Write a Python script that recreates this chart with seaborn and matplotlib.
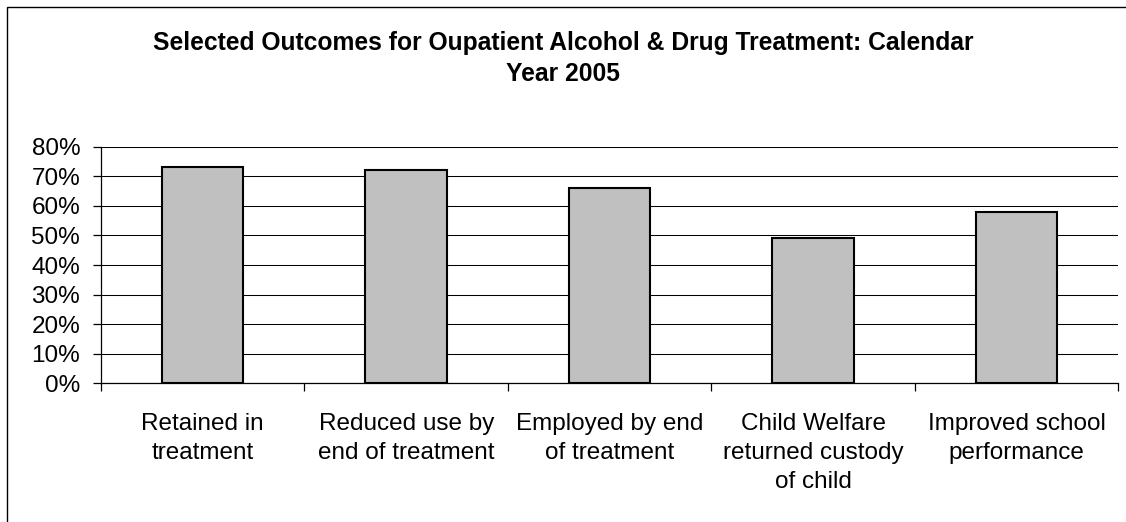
import matplotlib
matplotlib.use("Agg")
import matplotlib.pyplot as plt
import seaborn as sns
import pandas as pd
from matplotlib.patches import Rectangle
from matplotlib.ticker import FixedLocator, PercentFormatter

categories = [
    "Retained in\ntreatment",
    "Reduced use by\nend of treatment",
    "Employed by end\nof treatment",
    "Child Welfare\nreturned custody\nof child",
    "Improved school\nperformance",
]
values = [0.73, 0.72, 0.66, 0.49, 0.58]
y_ticks = [0.0, 0.1, 0.2, 0.3, 0.4, 0.5, 0.6, 0.7, 0.8]
title = "Selected Outcomes for Oupatient Alcohol & Drug Treatment: Calendar\nYear 2005"

df = pd.DataFrame({"category": categories, "value": values})

sns.set_theme(style="white")
plt.rcParams["font.family"] = ["Liberation Sans", "DejaVu Sans"]

W, H = 1126, 522
fig = plt.figure(figsize=(W / 100, H / 100), dpi=100)
ax = fig.add_axes([101 / W, 1 - 383.3 / H, (1118.3 - 101) / W, (383.3 - 146.7) / H])

sns.barplot(data=df, x="category", y="value", order=categories, ax=ax,
            color="#C0C0C0", width=0.4, edgecolor="black", linewidth=1.5,
            saturation=1, zorder=3)

ax.set_xlim(-0.5, len(categories) - 0.5)
ax.set_ylim(0, 0.8)
ax.set_yticks(y_ticks)
ax.yaxis.set_major_formatter(PercentFormatter(1.0, decimals=0))
ax.grid(axis="y", color="black", linewidth=0.75, zorder=0)
ax.set_axisbelow(True)
ax.set_xlabel("")
ax.set_ylabel("")

for s in ["top", "right"]:
    ax.spines[s].set_visible(False)
for s in ["left", "bottom"]:
    ax.spines[s].set_color("black")
    ax.spines[s].set_linewidth(0.9)

ax.xaxis.set_minor_locator(FixedLocator([i - 0.5 for i in range(len(categories) + 1)]))
ax.tick_params(axis="x", which="major", length=0, pad=21.5, labelsize=17.5, colors="black")
ax.tick_params(axis="x", which="minor", length=5.5, width=0.9, color="black", direction="out", bottom=True)
ax.tick_params(axis="y", which="major", length=6, width=0.9, color="black", direction="out",
               pad=9, labelsize=17.5, labelcolor="black", left=True)
for lab in ax.get_xticklabels():
    lab.set_linespacing(1.42)
    lab.set_ha("center")

fig.text(0.5, 1 - 58.5 / H, title, ha="center", va="center", fontsize=17.7,
         fontweight="bold", color="black", linespacing=1.4)

fig.patches.append(Rectangle((7 / W, -0.2), 1.5, 1.2 - 7 / H, transform=fig.transFigure,
                             fill=False, edgecolor="black", linewidth=1.0, zorder=10))

fig.savefig("out.png", dpi=100, facecolor="white")
